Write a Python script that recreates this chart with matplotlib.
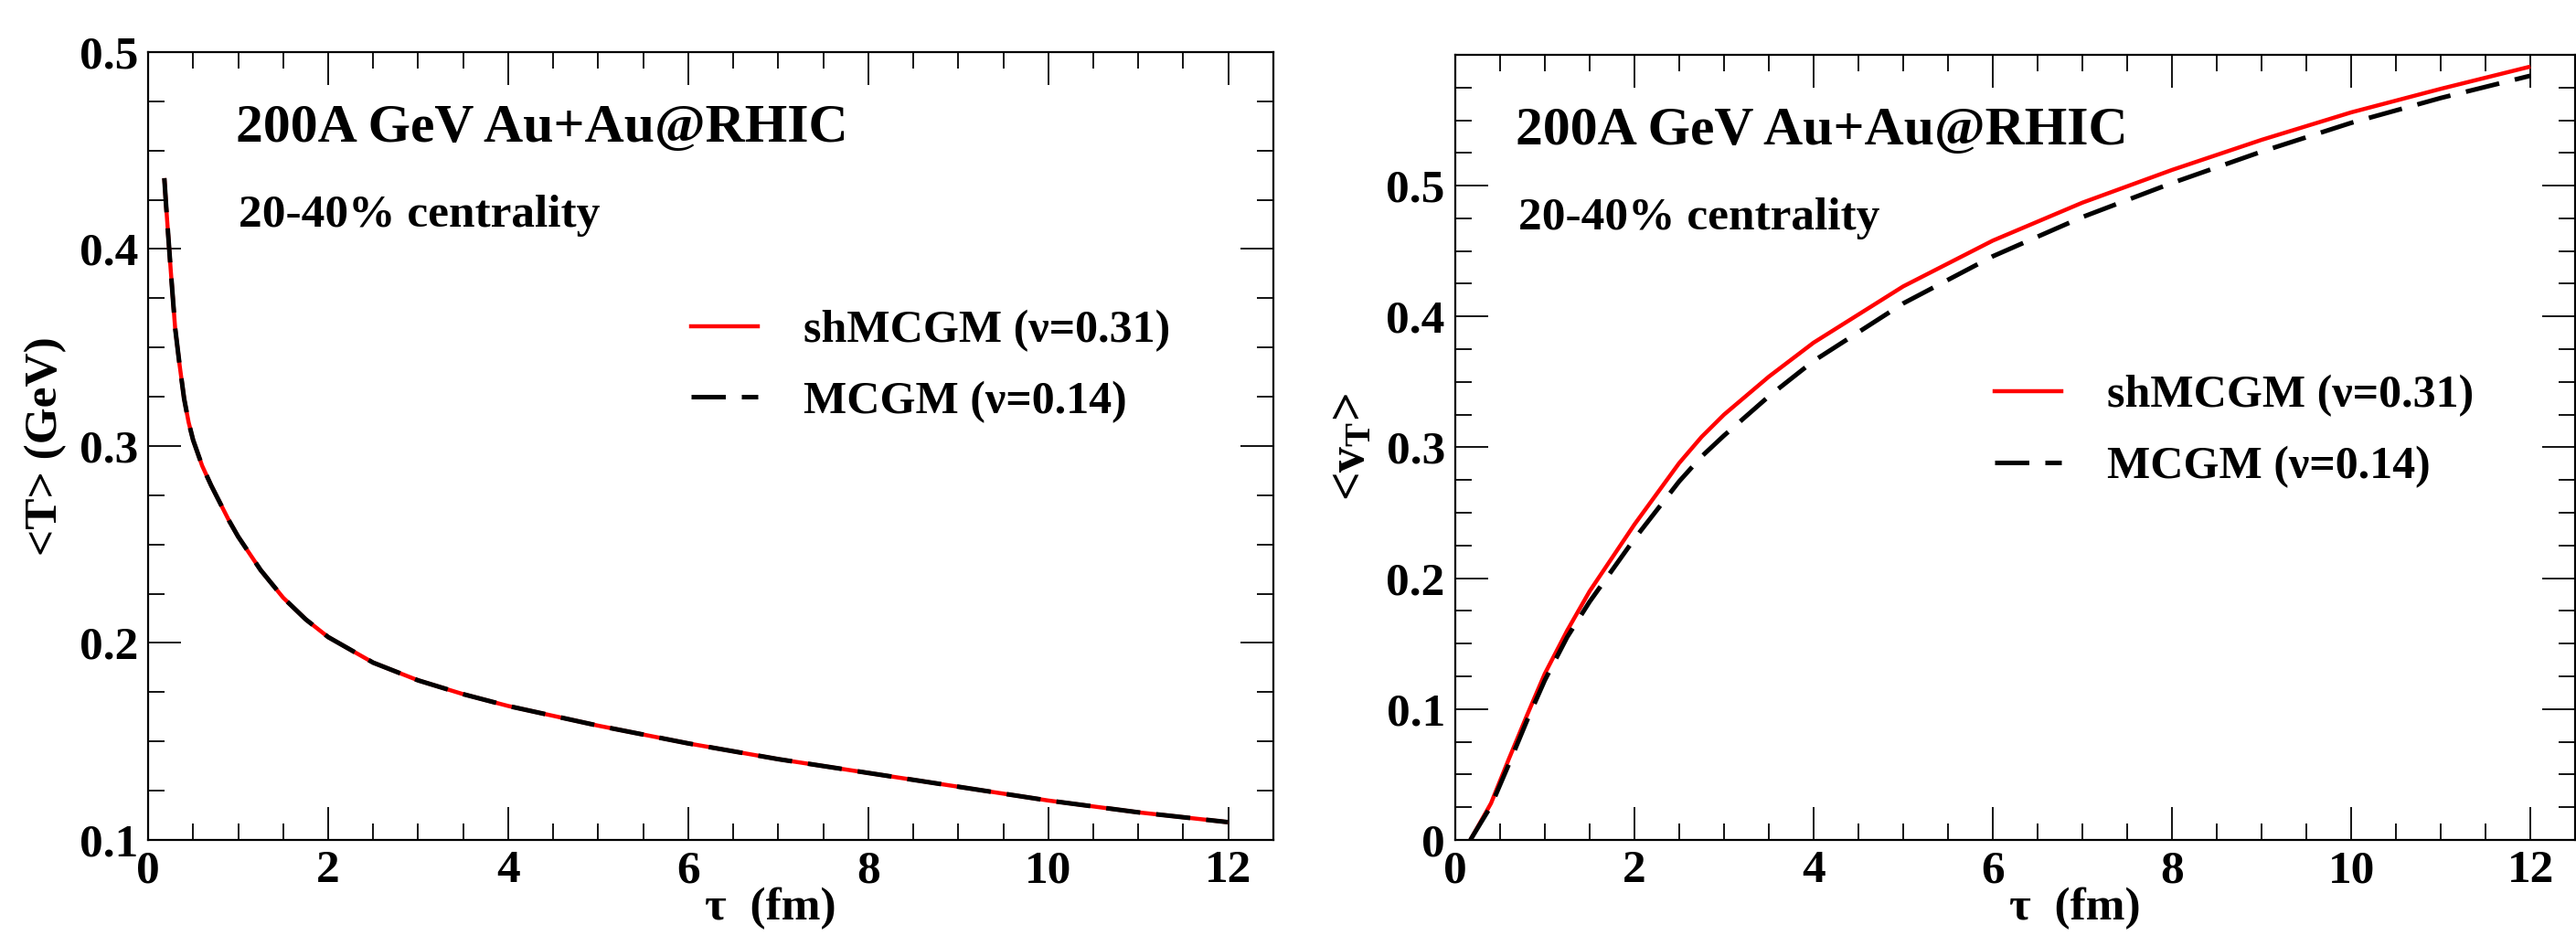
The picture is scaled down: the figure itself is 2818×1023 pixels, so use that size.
import matplotlib

matplotlib.use("Agg")
import matplotlib.pyplot as plt
from matplotlib.lines import Line2D
from matplotlib.ticker import FixedLocator, FuncFormatter, MultipleLocator

plt.rcParams["font.family"] = ["Liberation Serif", "DejaVu Serif"]
plt.rcParams["font.weight"] = "bold"
plt.rcParams["mathtext.fontset"] = "custom"
plt.rcParams["mathtext.rm"] = "Liberation Serif:bold"
plt.rcParams["mathtext.it"] = "Liberation Serif:bold"
plt.rcParams["mathtext.bf"] = "Liberation Serif:bold"

# mean temperature <T> (GeV) vs proper time tau (fm)
tau_T = [0.18, 0.2, 0.22, 0.25, 0.3, 0.35, 0.4, 0.45, 0.5, 0.6, 0.7, 0.8,
         0.9, 1.0, 1.25, 1.5, 1.75, 2.0, 2.5, 3.0, 3.5, 4.0, 5.0, 6.0, 7.0,
         8.0, 9.0, 10.0, 11.0, 12.0]
T_shmcgm = [0.436, 0.422, 0.409, 0.390, 0.360, 0.341, 0.324, 0.312, 0.303,
            0.290, 0.280, 0.271, 0.262, 0.254, 0.237, 0.223, 0.212, 0.203,
            0.190, 0.181, 0.174, 0.168, 0.158, 0.149, 0.141, 0.134, 0.127,
            0.120, 0.114, 0.109]
T_mcgm = [0.436, 0.422, 0.409, 0.390, 0.360, 0.341, 0.324, 0.312, 0.303,
          0.290, 0.280, 0.271, 0.262, 0.254, 0.237, 0.223, 0.212, 0.203,
          0.190, 0.181, 0.174, 0.168, 0.158, 0.149, 0.141, 0.134, 0.127,
          0.120, 0.114, 0.109]

# mean transverse flow <v_T> vs tau, right panel
tau_v = [0.17, 0.4, 0.6, 0.8, 1.0, 1.25, 1.5, 2.0, 2.5, 2.75, 3.0, 3.5,
         4.0, 5.0, 6.0, 7.0, 8.0, 9.0, 10.0, 11.0, 12.0]
v_shmcgm = [0.0, 0.028, 0.062, 0.095, 0.127, 0.160, 0.190, 0.241, 0.288,
            0.308, 0.325, 0.354, 0.380, 0.423, 0.458, 0.487, 0.512, 0.535,
            0.556, 0.574, 0.591]
v_mcgm = [0.0, 0.026, 0.058, 0.091, 0.122, 0.155, 0.182, 0.230, 0.274,
          0.293, 0.309, 0.339, 0.366, 0.410, 0.446, 0.476, 0.502, 0.526,
          0.548, 0.567, 0.584]

labels = ["shMCGM (\u03bd=0.31)", "MCGM (\u03bd=0.14)"]
title = "200A GeV Au+Au@RHIC"
subtitle = "20-40% centrality"

RED = "#ff0000"
DASHES = (7.5, 3.5)


def style_axes(ax, ylim, yticks):
    ax.set_xlim(0, 12.5)
    ax.set_ylim(*ylim)
    ax.xaxis.set_major_locator(FixedLocator([0, 2, 4, 6, 8, 10, 12]))
    ax.xaxis.set_minor_locator(MultipleLocator(0.5))
    ax.yaxis.set_major_locator(FixedLocator(yticks))
    ax.yaxis.set_minor_locator(MultipleLocator(0.025))
    ax.yaxis.set_major_formatter(FuncFormatter(lambda v, p: f"{v:g}"))
    ax.xaxis.set_major_formatter(FuncFormatter(lambda v, p: f"{v:g}"))
    ax.tick_params(which="both", direction="in", top=True, right=True,
                   width=1.3, labelsize=37, pad=8)
    ax.tick_params(which="major", length=26)
    ax.tick_params(which="minor", length=13)
    for s in ax.spines.values():
        s.set_linewidth(1.6)
    ax.set_xlabel("\u03c4  (fm)", fontsize=37, fontweight="bold")
    ax.xaxis.set_label_coords(0.553, -0.06, transform=ax.transAxes)
    ax.xaxis.label.set_va("top")


def draw(ax, x, y_red, y_black, leg_xy, text_x):
    ax.plot(x, y_red, color=RED, lw=3.2, solid_capstyle="butt")
    ax.plot(x, y_black, color="black", lw=3.6, dashes=DASHES,
            dash_capstyle="butt")
    ax.text(text_x, 0.886, title, transform=ax.transAxes, fontsize=43,
            fontweight="bold", va="baseline")
    ax.text(text_x + 0.002, 0.778, subtitle, transform=ax.transAxes,
            fontsize=37, fontweight="bold", va="baseline")
    handles = [
        Line2D([], [], color=RED, lw=3.2),
        Line2D([], [], color="black", lw=3.6, dashes=DASHES),
    ]
    ax.legend(handles, labels, loc="upper left", bbox_to_anchor=leg_xy,
              frameon=False, prop={"size": 36, "weight": "bold"},
              handlelength=1.46, handletextpad=1.0, labelspacing=0.63,
              borderpad=0, borderaxespad=0)


fig = plt.figure(figsize=(28.18, 10.23), dpi=100)
ax1 = fig.add_axes([0.0575, 0.1017, 0.4368, 0.8426])
ax2 = fig.add_axes([0.5649, 0.1017, 0.4348, 0.8397])

draw(ax1, tau_T, T_shmcgm, T_mcgm, (0.4825, 0.673), 0.078)
style_axes(ax1, (0.1, 0.5), [0.1, 0.2, 0.3, 0.4, 0.5])
ax1.set_ylabel("<T> (GeV)", fontsize=37, fontweight="bold", labelpad=10)

draw(ax2, tau_v, v_shmcgm, v_mcgm, (0.482, 0.592), 0.054)
style_axes(ax2, (0.0, 0.6), [0.0, 0.1, 0.2, 0.3, 0.4, 0.5])
ax2.set_ylabel("<v$_\\mathrm{T}$>", fontsize=40, fontweight="bold",
               labelpad=9)

fig.savefig("out.png", dpi=100)
plt.close(fig)
